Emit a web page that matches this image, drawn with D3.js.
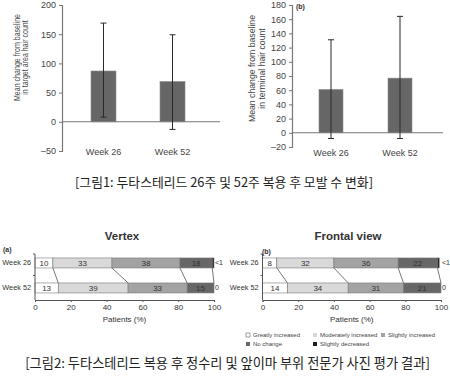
<!DOCTYPE html>
<html><head><meta charset="utf-8">
<script src="https://cdn.jsdelivr.net/npm/d3@7"></script>
<style>body{margin:0;background:#fff} svg{display:block}</style>
</head><body><svg id="c" width="450" height="382"></svg>
<script>
// ---------- data ----------
const weeks = ["Week 26", "Week 52"];
const targetMean = [87, 69];
const targetUpper = [169, 149];
const targetLower = [8, -13];
const targetTicks = [-50, 0, 50, 100, 150, 200];
const terminalMean = [61, 77];
const terminalUpper = [131, 164];
const terminalLower = [-8, -8];
const terminalTicks = [-20, 0, 20, 40, 60, 80, 100, 120, 140, 160, 180];

const categories = ["Greatly increased", "Moderately increased", "Slightly increased", "No change", "Slightly decreased"];
const catColors = ["#ffffff", "#d9d9d9", "#a3a3a3", "#676767", "#1e1e1e"];
const vertex26 = [10, 33, 38, 18, 1];
const vertex52 = [13, 39, 33, 15, 0];
const vertexLab26 = ["10", "33", "38", "18", "<1"];
const vertexLab52 = ["13", "39", "33", "15", "0"];
const frontal26 = [8, 32, 36, 22, 1];
const frontal52 = [14, 34, 31, 21, 0];
const frontalLab26 = ["8", "32", "36", "22", "<1"];
const frontalLab52 = ["14", "34", "31", "21", "0"];
const pctTicks = [0, 20, 40, 60, 80, 100];

const caption1 = "[그림1: 두타스테리드 26주 및 52주 복용 후 모발 수 변화]";
const caption2 = "[그림2: 두타스테리드 복용 후 정수리 및 앞이마 부위 전문가 사진 평가 결과]";

// ---------- drawing ----------
const svg = d3.select("#c");
const FONT = "'Liberation Sans', Arial, Helvetica, sans-serif";
const KFONT = "'Noto Sans CJK KR', 'Noto Sans', sans-serif";
const fmt = v => v < 0 ? "\u2013" + Math.abs(v) : String(v);

function barPanel(o) {
  const g = svg.append("g");
  const y = d3.scaleLinear().domain(o.domain).range(o.yRange);
  const x = d3.scaleBand().domain(weeks).range(o.xRange);
  const ax = d3.axisLeft(y).tickValues(o.ticks).tickSize(3).tickPadding(3).tickFormat(fmt);
  const ga = g.append("g").attr("transform", `translate(${o.axisX},0)`).call(ax);
  ga.select(".domain").attr("stroke", "#777").attr("stroke-width", 1.2);
  ga.selectAll(".tick line").attr("stroke", "#777");
  ga.selectAll("text").attr("font-family", FONT).attr("font-size", 9).attr("fill", "#444");
  g.selectAll("rect.bar").data(weeks).enter().append("rect")
    .attr("x", d => x(d) + x.bandwidth() / 2 - o.barW / 2)
    .attr("width", o.barW)
    .attr("y", (d, i) => y(Math.max(0, o.mean[i])))
    .attr("height", (d, i) => Math.abs(y(o.mean[i]) - y(0)))
    .attr("fill", "#666666").attr("stroke", "#8c8c8c").attr("stroke-width", 0.6);
  g.append("line").attr("x1", o.axisX).attr("x2", o.baseEnd)
    .attr("y1", y(0)).attr("y2", y(0)).attr("stroke", "#777").attr("stroke-width", 1.1);
  weeks.forEach((w, i) => {
    const cx = x(w) + x.bandwidth() / 2;
    g.append("line").attr("x1", cx).attr("x2", cx).attr("y1", y(o.upper[i])).attr("y2", y(o.lower[i]))
      .attr("stroke", "#2a2a2a").attr("stroke-width", 1);
    [o.upper[i], o.lower[i]].forEach(v => {
      g.append("line").attr("x1", cx - 3).attr("x2", cx + 3).attr("y1", y(v)).attr("y2", y(v))
        .attr("stroke", "#2a2a2a").attr("stroke-width", 1);
    });
    g.append("text").attr("x", cx).attr("y", o.labelY).attr("text-anchor", "middle")
      .attr("font-family", FONT).attr("font-size", 9).attr("fill", "#444").text(w);
  });
  // y title: two lines, glyphs slightly condensed along their length
  let factor = null;
  o.title.forEach((line, i) => {
    const t = g.append("text")
      .attr("transform", `translate(${o.titleX + i * o.titleLH},${o.titleY}) rotate(-90)`)
      .attr("text-anchor", "middle").attr("font-family", FONT).attr("font-size", o.titleSize)
      .attr("fill", "#444").text(line);
    const len = t.node().getComputedTextLength();
    if (factor === null) factor = o.titleLen / len;
    t.attr("textLength", len * factor).attr("lengthAdjust", "spacingAndGlyphs");
  });
  if (o.tag) g.append("text").attr("x", o.tag[0]).attr("y", o.tag[1]).attr("font-family", FONT)
    .attr("font-size", 7).attr("font-weight", "bold").attr("fill", "#333").text(o.tag[2]);
}

barPanel({domain: [-50, 200], yRange: [151, 5], xRange: [69, 207], axisX: 62, baseEnd: 220, barW: 25,
  ticks: targetTicks, mean: targetMean, upper: targetUpper, lower: targetLower, labelY: 154.5,
  title: ["Mean change from baseline", "in target area hair count"], titleX: 19.5, titleY: 57.5,
  titleSize: 8.8, titleLH: 8.8, titleLen: 87});
barPanel({domain: [-20, 180], yRange: [147, 5], xRange: [296.5, 434.5], axisX: 292, baseEnd: 443, barW: 24,
  ticks: terminalTicks, mean: terminalMean, upper: terminalUpper, lower: terminalLower, labelY: 155.5,
  title: ["Mean change from baseline", "in terminal hair count"], titleX: 255, titleY: 68.5,
  titleSize: 9.8, titleLH: 10.2, titleLen: 107, tag: [296, 8.5, "(b)"]});

function fitText(sel, target) {
  const fs = +sel.attr("font-size");
  const w = sel.node().getComputedTextLength();
  if (w > 0) sel.attr("font-size", fs * target / w);
}

fitText(svg.append("text").attr("x", 224).attr("y", 187).attr("text-anchor", "middle")
  .attr("font-family", KFONT).attr("font-size", 12).attr("fill", "#222").text(caption1), 298);

function stackPanel(o) {
  const g = svg.append("g");
  const x = d3.scaleLinear().domain([0, 100]).range(o.xRange);
  const y = d3.scaleBand().domain(weeks).range([254, 300]).paddingInner(0.6).paddingOuter(0.22).align(0.36);
  const rows = [o.v26, o.v52], labs = [o.l26, o.l52];
  const cums = rows.map(r => { let s = 0; return r.map(v => { const a = s; s += v; return [a, s]; }); });
  for (let k = 0; k < 4; k++) {
    g.append("line").attr("x1", x(cums[0][k][1])).attr("y1", y(weeks[0]) + y.bandwidth())
      .attr("x2", x(cums[1][k][1])).attr("y2", y(weeks[1]))
      .attr("stroke", "#555").attr("stroke-width", 0.8);
  }
  rows.forEach((r, ri) => {
    const wy = y(weeks[ri]);
    r.forEach((v, k) => {
      if (v <= 0) return;
      g.append("rect").attr("x", x(cums[ri][k][0])).attr("width", x(cums[ri][k][1]) - x(cums[ri][k][0]))
        .attr("y", wy).attr("height", y.bandwidth())
        .attr("fill", catColors[k]).attr("stroke", "#7a7a7a").attr("stroke-width", 0.6);
      if (k < 4) g.append("text").attr("x", (x(cums[ri][k][0]) + x(cums[ri][k][1])) / 2).attr("y", wy + y.bandwidth() / 2 + 3)
        .attr("text-anchor", "middle").attr("font-family", FONT).attr("font-size", 8).attr("fill", "#333")
        .text(labs[ri][k]);
    });
    g.append("text").attr("x", x(100) + 1).attr("y", wy + y.bandwidth() / 2 + 2.5)
      .attr("font-family", FONT).attr("font-size", 7).attr("fill", "#333").text(labs[ri][4]);
    g.append("text").attr("x", o.xRange[0] - 4).attr("y", wy + y.bandwidth() / 2 + 2.5).attr("text-anchor", "end")
      .attr("font-family", FONT).attr("font-size", 7.3).attr("fill", "#333").text(weeks[ri]);
  });
  const [y0, y1] = y.range();
  g.append("line").attr("x1", o.xRange[0]).attr("x2", o.xRange[0]).attr("y1", y0).attr("y2", y1)
    .attr("stroke", "#555").attr("stroke-width", 1);
  const mid = (y(weeks[0]) + y.bandwidth() + y(weeks[1])) / 2;
  [y0, mid].forEach(t => g.append("line").attr("x1", o.xRange[0] - 2).attr("x2", o.xRange[0]).attr("y1", t).attr("y2", t)
    .attr("stroke", "#555"));
  const ax = d3.axisBottom(x).tickValues(pctTicks).tickSize(2).tickPadding(2);
  const ga = g.append("g").attr("transform", `translate(0,${y1})`).call(ax);
  ga.select(".domain").attr("stroke", "#555");
  ga.selectAll(".tick line").attr("stroke", "#555");
  ga.selectAll("text").attr("font-family", FONT).attr("font-size", 8).attr("fill", "#333");
  g.append("text").attr("x", (o.xRange[0] + o.xRange[1]) / 2).attr("y", 322).attr("text-anchor", "middle")
    .attr("font-family", FONT).attr("font-size", 8).attr("fill", "#333").text("Patients (%)");
  g.append("text").attr("x", o.titleX).attr("y", 240).attr("text-anchor", "middle")
    .attr("font-family", FONT).attr("font-size", 11.5).attr("font-weight", "bold").attr("fill", "#333").text(o.title);
  g.append("text").attr("x", o.tag[0]).attr("y", o.tag[1]).attr("font-family", FONT)
    .attr("font-size", 7).attr("font-weight", "bold").attr("fill", "#333").text(o.tag[2]);
}

stackPanel({xRange: [35, 214], v26: vertex26, v52: vertex52, l26: vertexLab26, l52: vertexLab52,
  title: "Vertex", titleX: 122, tag: [3, 251.5, "(a)"]});
stackPanel({xRange: [262.5, 441], v26: frontal26, v52: frontal52, l26: frontalLab26, l52: frontalLab52,
  title: "Frontal view", titleX: 348, tag: [262, 254, "(b)"]});

const legPos = [[248, 335], [315, 335], [383, 335], [248, 344], [315, 344]];
categories.forEach((c, i) => {
  const [lx, ly] = legPos[i];
  svg.append("rect").attr("x", lx - 2).attr("y", ly - 2).attr("width", 4).attr("height", 4)
    .attr("fill", catColors[i]).attr("stroke", i === 0 ? "#666" : "none").attr("stroke-width", 0.6);
  svg.append("text").attr("x", lx + 5).attr("y", ly + 2).attr("font-family", FONT).attr("font-size", 6)
    .attr("fill", "#444").text(c);
});

fitText(svg.append("text").attr("x", 227.5).attr("y", 368).attr("text-anchor", "middle")
  .attr("font-family", KFONT).attr("font-size", 12).attr("fill", "#222").text(caption2), 405);
</script></body></html>
